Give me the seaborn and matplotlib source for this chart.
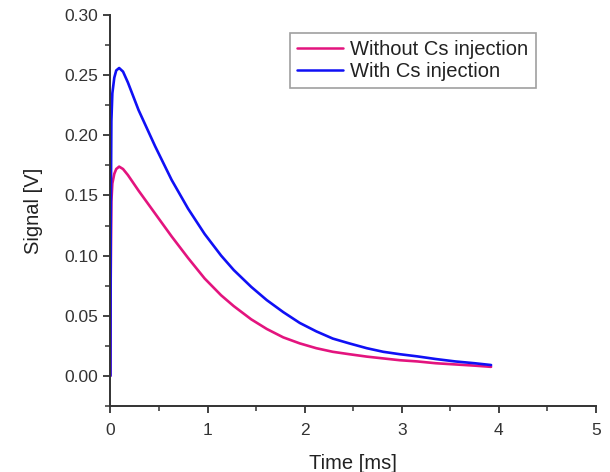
import matplotlib
matplotlib.use("Agg")
import matplotlib.pyplot as plt
import seaborn as sns
import pandas as pd
from matplotlib.ticker import MultipleLocator, FormatStrFormatter

time_ms = [0, 0.003, 0.01, 0.02, 0.04, 0.06, 0.09, 0.13, 0.18, 0.29, 0.46, 0.63,
           0.80, 0.97, 1.14, 1.27, 1.45, 1.61, 1.78, 1.95, 2.12, 2.29, 2.46, 2.64,
           2.81, 2.98, 3.16, 3.35, 3.55, 3.75, 3.92]
with_cs = [0, 0.12, 0.212, 0.235, 0.248, 0.254, 0.256, 0.253, 0.244, 0.221, 0.191, 0.163,
           0.139, 0.118, 0.100, 0.088, 0.074, 0.063, 0.053, 0.044, 0.037, 0.031, 0.027, 0.023,
           0.020, 0.018, 0.0162, 0.014, 0.012, 0.0105, 0.009]
without_cs = [0, 0.08, 0.145, 0.160, 0.168, 0.172, 0.174, 0.172, 0.167, 0.154, 0.135, 0.116,
              0.098, 0.081, 0.067, 0.058, 0.047, 0.039, 0.032, 0.027, 0.023, 0.020, 0.018, 0.016,
              0.0145, 0.013, 0.012, 0.0105, 0.0095, 0.0085, 0.0075]
series_names = ["Without Cs injection", "With Cs injection"]
colors = ["#E3147E", "#1010F5"]

df = pd.concat([
    pd.DataFrame({"t": time_ms, "v": without_cs, "s": series_names[0]}),
    pd.DataFrame({"t": time_ms, "v": with_cs, "s": series_names[1]}),
])

sns.set_style("ticks")
plt.rcParams['font.family'] = ['Liberation Sans', 'DejaVu Sans']

fig = plt.figure(figsize=(6.1, 4.72), dpi=100)
ax = fig.add_axes([0.181, 0.140, 0.796, 0.828])
sns.lineplot(data=df, x="t", y="v", hue="s", palette=dict(zip(series_names, colors)),
             linewidth=1.9, ax=ax, sort=False, estimator=None)
for ln in ax.get_lines():
    ln.set_solid_joinstyle("round")

ax.set_xlim(0, 5)
ax.set_ylim(-0.025, 0.30)
ax.xaxis.set_major_locator(MultipleLocator(1))
ax.xaxis.set_minor_locator(MultipleLocator(0.5))
ax.yaxis.set_major_locator(MultipleLocator(0.05))
ax.yaxis.set_minor_locator(MultipleLocator(0.025))
ax.yaxis.set_major_formatter(FormatStrFormatter('%.2f'))
for side in ["top", "right"]:
    ax.spines[side].set_visible(False)
for side in ["left", "bottom"]:
    ax.spines[side].set_color("#333333")
    ax.spines[side].set_linewidth(1.4)
ax.tick_params(which="major", length=5, width=1.3, color="#333333", labelsize=12.5,
               labelcolor="#333333", direction="out", pad=4)
ax.tick_params(axis="x", which="major", pad=7)
ax.tick_params(which="minor", length=3.5, width=1.1, color="#333333", direction="out")
ax.set_xlabel("Time [ms]", fontsize=14.5, color="#222222", labelpad=12)
ax.set_ylabel("Signal [V]", fontsize=14.5, color="#222222", labelpad=15)

leg = ax.legend(loc="upper left", bbox_to_anchor=(0.37, 0.954), fontsize=14.5, frameon=True,
                fancybox=False, edgecolor="#888888", handlelength=2.3, borderpad=0.35,
                labelspacing=0.15, handletextpad=0.35, borderaxespad=0)
leg.get_frame().set_linewidth(1.2)
for line in leg.get_lines():
    line.set_linewidth(1.8)
for t in leg.get_texts():
    t.set_color("#222222")

fig.savefig("out.png", dpi=100)
